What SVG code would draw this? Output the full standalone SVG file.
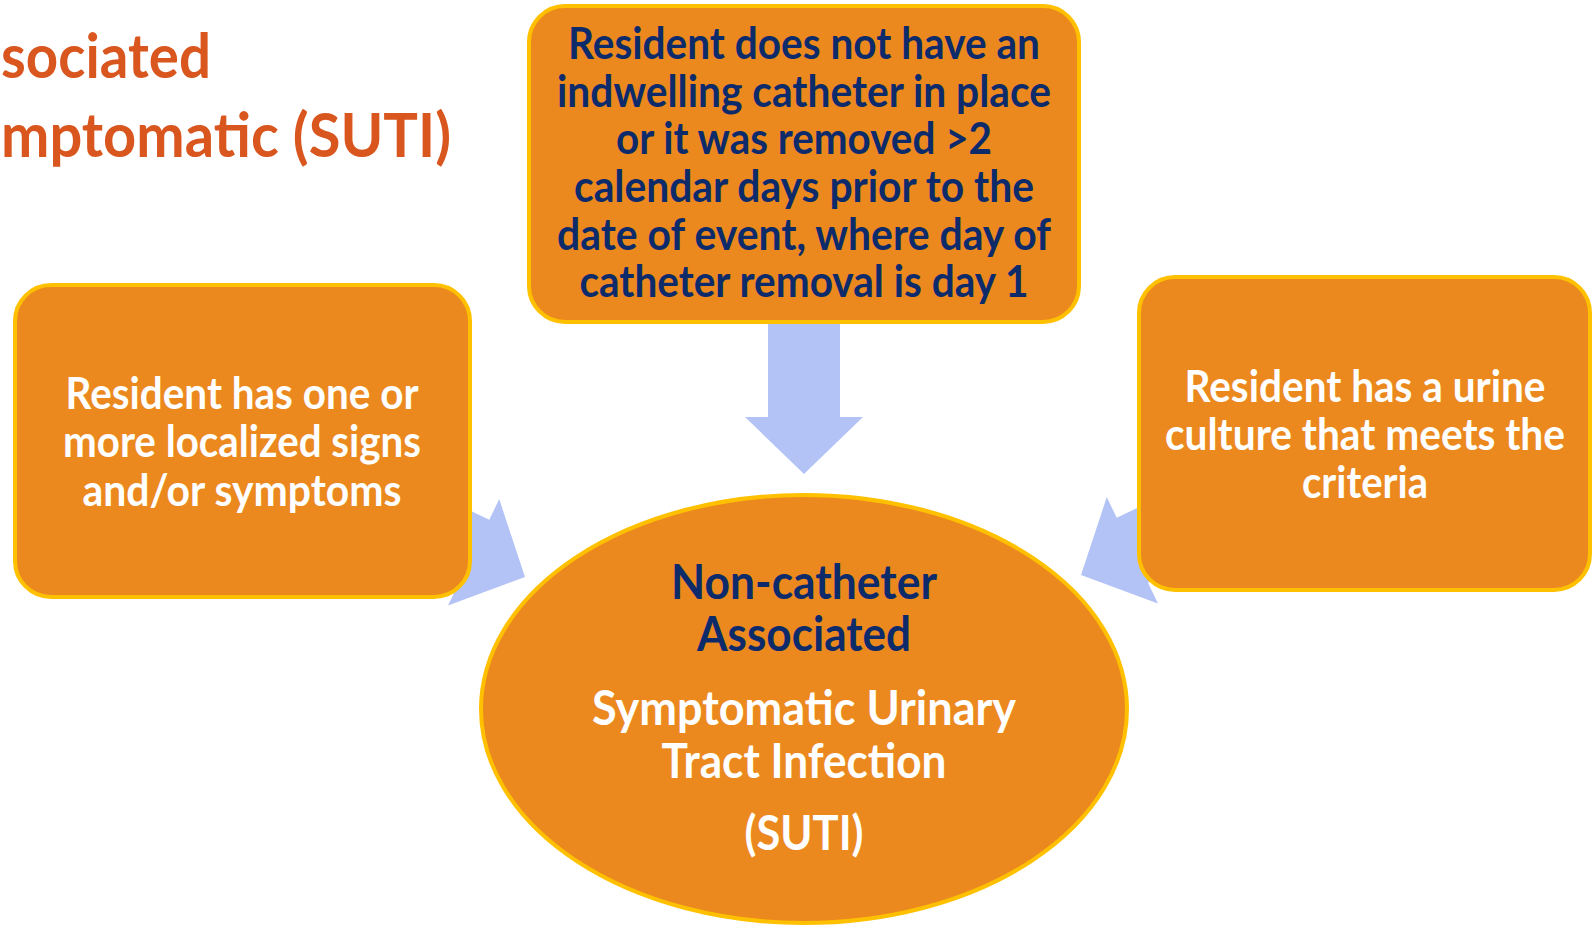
<svg xmlns="http://www.w3.org/2000/svg" width="1593" height="925" viewBox="0 0 1593 925">
<style>
.box{fill:#EB891F;stroke:#FFC000;stroke-width:4}
.arrow{fill:#B3C3F5}
text{font-family:Lato,"Open Sans","Liberation Sans",sans-serif;font-weight:bold;text-anchor:middle}
.dark{fill:#0D2B6A;font-size:43px}
.white{fill:#FFFFFF;font-size:43px}
.big{font-size:48px}
.title{fill:#D9561F;font-size:62px;text-anchor:start}
</style>
<defs>
<polygon id="blockArrow" points="0,0 -57,59 -57,36 -151,36 -151,-36 -57,-36 -57,-59"/>
</defs>
<g id="title">
<text class="title" x="1" y="78" textLength="210" lengthAdjust="spacingAndGlyphs">sociated</text>
<text class="title" x="1" y="157" textLength="450" lengthAdjust="spacingAndGlyphs">mptomatic (SUTI)</text>
</g>
<g id="connectors">
<use href="#blockArrow" class="arrow" transform="translate(804,474) rotate(90)"/>
<use href="#blockArrow" class="arrow" transform="translate(525,577) rotate(25.7)"/>
<use href="#blockArrow" class="arrow" transform="translate(1081,575) rotate(154.3)"/>
</g>
<g id="node-top">
<rect class="box" x="529" y="6" width="550" height="316" rx="36"/>
<text class="dark" x="804" y="59" textLength="472" lengthAdjust="spacingAndGlyphs">Resident does not have an</text>
<text class="dark" x="804" y="107" textLength="494" lengthAdjust="spacingAndGlyphs">indwelling catheter in place</text>
<text class="dark" x="804" y="154" textLength="376" lengthAdjust="spacingAndGlyphs">or it was removed &gt;2</text>
<text class="dark" x="804" y="202" textLength="460" lengthAdjust="spacingAndGlyphs">calendar days prior to the</text>
<text class="dark" x="804" y="250" textLength="494" lengthAdjust="spacingAndGlyphs">date of event, where day of</text>
<text class="dark" x="804" y="297" textLength="449" lengthAdjust="spacingAndGlyphs">catheter removal is day 1</text>
</g>
<g id="node-left">
<rect class="box" x="15" y="285" width="455" height="312" rx="36"/>
<text class="white" x="242" y="409" textLength="353" lengthAdjust="spacingAndGlyphs">Resident has one or</text>
<text class="white" x="242" y="457" textLength="358" lengthAdjust="spacingAndGlyphs">more localized signs</text>
<text class="white" x="242" y="506" textLength="319" lengthAdjust="spacingAndGlyphs">and/or symptoms</text>
</g>
<g id="node-right">
<rect class="box" x="1139" y="277" width="451" height="313" rx="36"/>
<text class="white" x="1365" y="402" textLength="361" lengthAdjust="spacingAndGlyphs">Resident has a urine</text>
<text class="white" x="1365" y="450" textLength="400" lengthAdjust="spacingAndGlyphs">culture that meets the</text>
<text class="white" x="1365" y="498" textLength="126" lengthAdjust="spacingAndGlyphs">criteria</text>
</g>
<g id="node-center">
<ellipse class="box" cx="804" cy="709" rx="323" ry="214"/>
<text class="dark big" x="804" y="599" textLength="266" lengthAdjust="spacingAndGlyphs">Non-catheter</text>
<text class="dark big" x="804" y="651" textLength="214" lengthAdjust="spacingAndGlyphs">Associated</text>
<text class="white big" x="804" y="725" textLength="424" lengthAdjust="spacingAndGlyphs">Symptomatic Urinary</text>
<text class="white big" x="804" y="778" textLength="285" lengthAdjust="spacingAndGlyphs">Tract Infection</text>
<text class="white big" x="804" y="850" textLength="119" lengthAdjust="spacingAndGlyphs">(SUTI)</text>
</g>
</svg>
